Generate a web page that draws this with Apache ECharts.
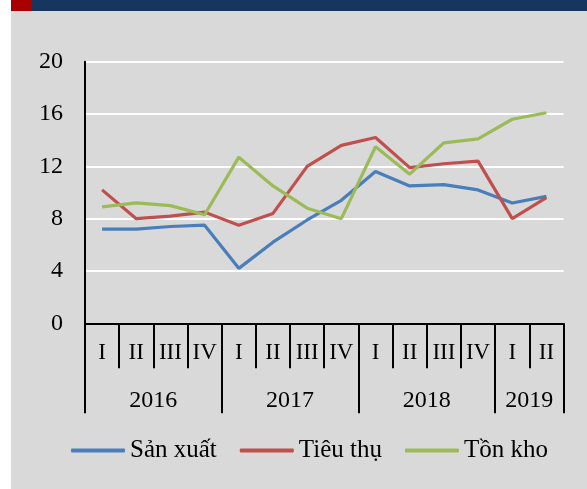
<!DOCTYPE html>
<html>
<head>
<meta charset="utf-8">
<script src="https://cdn.jsdelivr.net/npm/echarts@6/dist/echarts.min.js"></script>
<style>
  html, body { margin: 0; padding: 0; background: #ffffff; }
  #wrap { position: relative; width: 587px; height: 489px; overflow: hidden; }
  #gray { position: absolute; left: 11px; top: 11px; width: 576px; height: 478px; background: #d9d9d9; }
  #red { position: absolute; left: 11px; top: 0; width: 20px; height: 11px; background: #a80000; }
  #navy { position: absolute; left: 31px; top: 0; width: 556px; height: 11px; background: #17365d; }
  #chart { position: absolute; left: 0; top: 0; width: 587px; height: 489px; }
</style>
</head>
<body>
<div id="wrap">
  <div id="gray"></div>
  <div id="red"></div>
  <div id="navy"></div>
  <div id="chart"></div>
</div>
<script>
const quarters = ['I','II','III','IV','I','II','III','IV','I','II','III','IV','I','II'];
const years = ['2016','2017','2018','2019'];
const yearCenters = [2, 6, 10, 13];
const yearBounds = [0, 4, 8, 12, 14];
const yTicks = [0, 4, 8, 12, 16, 20];

const sanXuat = [7.2, 7.2, 7.4, 7.5, 4.2, 6.2, 7.9, 9.4, 11.6, 10.5, 10.6, 10.2, 9.2, 9.7];
const tieuThu = [10.2, 8.0, 8.2, 8.5, 7.5, 8.4, 12.0, 13.6, 14.2, 11.9, 12.2, 12.4, 8.0, 9.6];
const tonKho = [8.9, 9.2, 9.0, 8.3, 12.7, 10.5, 8.8, 8.0, 13.5, 11.4, 13.8, 14.1, 15.6, 16.1];

const font = '"Liberation Serif", "Times New Roman", serif';
const chart = echarts.init(document.getElementById('chart'), null, { renderer: 'canvas' });

chart.setOption({
  backgroundColor: 'transparent',
  animation: false,
  textStyle: { fontFamily: font },
  grid: { left: 85, right: 23.5, top: 61.7, bottom: 165.7, containLabel: false },
  legend: {
    left: 71,
    top: 438,
    padding: 0,
    icon: 'roundRect',
    itemWidth: 54,
    itemHeight: 4,
    itemGap: 23,
    textStyle: { fontFamily: font, fontSize: 25, color: '#000' },
    data: ['Sản xuất', 'Tiêu thụ', 'Tồn kho']
  },
  xAxis: [
    {
      type: 'category',
      data: quarters,
      boundaryGap: true,
      position: 'bottom',
      axisLine: { show: true, lineStyle: { color: '#000', width: 2 } },
      axisTick: { show: true, length: 45, lineStyle: { color: '#000', width: 2 } },
      axisLabel: { fontFamily: font, fontSize: 23, color: '#000', margin: 18, interval: 0 },
      splitLine: { show: false }
    },
    {
      type: 'value',
      min: 0,
      max: 14,
      position: 'bottom',
      axisLine: { show: false },
      axisTick: { show: true, length: 90, customValues: yearBounds, lineStyle: { color: '#000', width: 2 } },
      axisLabel: {
        fontFamily: font, fontSize: 24, color: '#000', margin: 65,
        customValues: yearCenters,
        formatter: function (v) { const i = yearCenters.indexOf(v); return i >= 0 ? years[i] : ''; }
      },
      splitLine: { show: false }
    }
  ],
  yAxis: {
    type: 'value',
    min: 0,
    max: 20,
    interval: 4,
    axisLine: { show: true, lineStyle: { color: '#000', width: 2 } },
    axisTick: { show: false },
    axisLabel: { fontFamily: font, fontSize: 24, color: '#000', margin: 22 },
    splitLine: { show: true, lineStyle: { color: '#ffffff', width: 2 } }
  },
  series: [
    { name: 'Sản xuất', type: 'line', data: sanXuat, symbol: 'none', lineStyle: { color: '#4a7ebb', width: 3.2 }, itemStyle: { color: '#4a7ebb' } },
    { name: 'Tiêu thụ', type: 'line', data: tieuThu, symbol: 'none', lineStyle: { color: '#c0504d', width: 3.2 }, itemStyle: { color: '#c0504d' } },
    { name: 'Tồn kho', type: 'line', data: tonKho, symbol: 'none', lineStyle: { color: '#9bbb59', width: 3.2 }, itemStyle: { color: '#9bbb59' } }
  ]
});
</script>
</body>
</html>
